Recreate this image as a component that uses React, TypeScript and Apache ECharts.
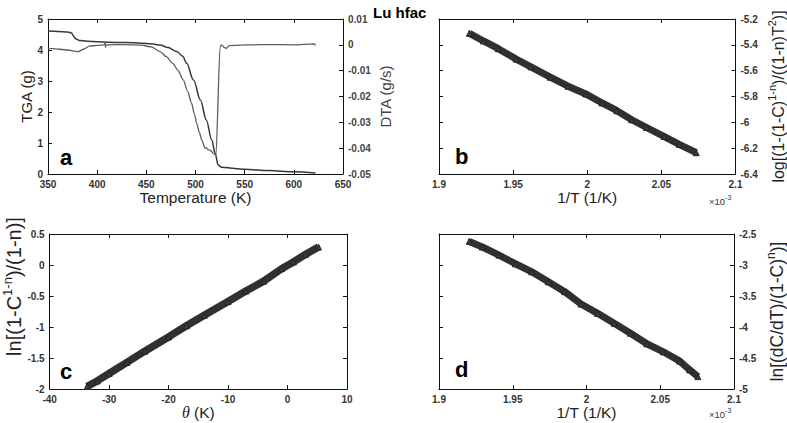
import React, { useEffect, useRef } from 'react';
import * as echarts from 'echarts';

// Panel a: TGA (g) and DTA (g/s) vs temperature (K)
const tgaCurve: [number, number][] = [
  [350, 4.61], [360, 4.6], [370, 4.58], [374, 4.55], [376, 4.45], [378, 4.36], [382, 4.31],
  [390, 4.28], [410, 4.25], [430, 4.24], [445, 4.22], [455, 4.2], [464, 4.16], [472, 4.08],
  [481, 3.95], [487, 3.8], [491, 3.57], [498, 3.03], [505, 2.39], [511, 1.74], [516.5, 1.1],
  [520, 0.67], [523, 0.29], [526.5, 0.22], [540, 0.18], [550, 0.15], [575, 0.11], [600, 0.07], [622, 0.03],
];
const dtaCurve: [number, number][] = [
  [350, -0.0014], [362, -0.0017], [372, -0.0021], [376, -0.0024], [381, -0.0026], [386, -0.0017],
  [392, -0.0005], [400, -0.0002], [407, 0], [408, 0.0008], [408.5, -0.001], [409, 0], [430, 0.0001],
  [445, -0.0001], [455, -0.0008], [464, -0.0026], [470, -0.0045], [477, -0.0072], [482, -0.0098],
  [487.6, -0.0136], [492, -0.018], [496, -0.0226], [499, -0.027], [501.2, -0.0304], [504, -0.034],
  [506.3, -0.0368], [509.7, -0.04], [511, -0.0398], [512.5, -0.0406], [514.7, -0.0408], [516, -0.0412],
  [518.1, -0.042], [520.8, -0.0427], [525, -0.0007], [526.6, 0], [529, -0.001], [531.7, -0.0014],
  [534, -0.0003], [545, -0.0001], [560, 0], [575, 0.0001], [600, 0], [621, 0.0004], [622, -0.0002],
];

// Panel b: 1/T (x10^-3 1/K) vs log[(1-(1-C)^(1-n))/((1-n)T^2)]
const bInvT = [1.9205, 1.93, 1.94, 1.952, 1.962, 1.975, 1.987, 1.999, 2.01, 2.02, 2.03, 2.04, 2.052, 2.062, 2.0735];
const bLog = [-5.311, -5.37, -5.43, -5.51, -5.57, -5.65, -5.72, -5.78, -5.85, -5.91, -5.98, -6.04, -6.11, -6.17, -6.235];

// Panel c: theta (K) vs ln[(1-C^(1-n))/(1-n)]
const cTheta = [-33.7, -32, -30, -27, -24, -20, -17, -14, -10, -7, -4, -1, 1, 3, 5.2];
const cLn = [-1.96, -1.87, -1.75, -1.57, -1.39, -1.16, -0.98, -0.81, -0.59, -0.42, -0.26, -0.06, 0.05, 0.17, 0.29];

// Panel d: 1/T (x10^-3 1/K) vs ln[(dC/dT)/(1-C)^n]
const dInvT = [1.9205, 1.9294, 1.9406, 1.9518, 1.9629, 1.9741, 1.9852, 1.9963, 2.0075, 2.0187, 2.0298, 2.0409, 2.0521, 2.0632, 2.0699, 2.0755];
const dLn = [-2.62, -2.71, -2.84, -2.98, -3.11, -3.27, -3.43, -3.63, -3.78, -3.94, -4.1, -4.27, -4.4, -4.55, -4.69, -4.8];

const invTTicks = { min: 1.9, max: 2.1, interval: 0.05 };

const FONT = 'Liberation Sans, Arial, Helvetica, sans-serif';
const zip = (xs: number[], ys: number[]) => xs.map((x, i) => [x, ys[i]]);

const labelStyle = { fontSize: 10, fontWeight: 'bold' as const, color: '#333', fontFamily: FONT };
const lineStyleAxis = { show: true, onZero: false, lineStyle: { color: '#111', width: 1 } };
const tickIn = { show: true, inside: true, length: 4, lineStyle: { color: '#111' } };
const supRich = (size: number, color: string) => ({
  sup: { fontSize: size, fontFamily: FONT, color, padding: [0, 0, 12, 0] },
});

function mainX(gridIndex: number, min: number, max: number, interval: number, name: string, nameGap: number) {
  return {
    type: 'value', gridIndex, min, max, interval, position: 'bottom',
    name, nameLocation: 'middle', nameGap,
    nameTextStyle: { fontSize: 15.5, color: '#222', fontFamily: FONT },
    axisLine: lineStyleAxis, axisTick: tickIn, splitLine: { show: false },
    axisLabel: { ...labelStyle, margin: 5 },
  };
}
function mirrorX(gridIndex: number, min: number, max: number, interval: number) {
  return {
    type: 'value', gridIndex, min, max, interval, position: 'top',
    axisLine: lineStyleAxis, axisTick: tickIn, splitLine: { show: false }, axisLabel: { show: false },
  };
}
function mainY(gridIndex: number, min: number, max: number, interval: number, position: string, name: string, nameGap: number, fontSize: number, supSize: number, color = '#222', padding: number[] = [0, 0, 0, 0]) {
  return {
    type: 'value', gridIndex, min, max, interval, position,
    name, nameLocation: 'middle', nameGap, nameRotate: 90,
    nameTextStyle: { fontSize, color, fontFamily: FONT, padding, rich: supRich(supSize, color) },
    axisLine: lineStyleAxis, axisTick: tickIn, splitLine: { show: false },
    axisLabel: { ...labelStyle, margin: 5, color: color === '#222' ? '#333' : color },
  };
}
function mirrorY(gridIndex: number, min: number, max: number, interval: number, position: string) {
  return {
    type: 'value', gridIndex, min, max, interval, position,
    axisLine: lineStyleAxis, axisTick: tickIn, splitLine: { show: false }, axisLabel: { show: false },
  };
}

function bandSeries(xi: number, yi: number, data: number[][], width: number) {
  return {
    type: 'line', xAxisIndex: xi, yAxisIndex: yi, data,
    lineStyle: { color: '#303030', width },
    symbol: 'triangle', symbolSize: 6, showAllSymbol: true,
    itemStyle: { color: '#3a3a3a', borderColor: '#262626', borderWidth: 1 },
    silent: true,
  };
}

function letter(text: string, x: number, y: number) {
  return {
    type: 'text', x, y,
    style: { text, font: `bold 22px ${FONT}`, fill: '#000', textVerticalAlign: 'middle', verticalAlign: 'middle' },
  };
}
function times10(x: number, y: number) {
  return {
    type: 'text', x, y,
    style: {
      text: '×10{s|-3}', fontSize: 9.5, fontFamily: FONT, fill: '#333',
      textVerticalAlign: 'middle', verticalAlign: 'middle',
      rich: { s: { fontSize: 7, fontFamily: FONT, fill: '#333', padding: [0, 0, 8, 0] } },
    },
  };
}

export default function App() {
  const ref = useRef<HTMLDivElement>(null);
  useEffect(() => {
    if (!ref.current) return;
    const chart = echarts.init(ref.current, undefined, { renderer: 'svg' });
    chart.setOption({
      animation: false,
      backgroundColor: '#fff',
      title: {
        text: 'Lu hfac', left: 368, top: 0,
        textStyle: { fontSize: 15, fontWeight: 'bold', color: '#000', fontFamily: FONT },
      },
      grid: [
        { left: 48, top: 19, width: 295, height: 155 },
        { left: 439, top: 19, width: 299, height: 155 },
        { left: 47, top: 234, width: 300, height: 155 },
        { left: 439, top: 234, width: 300, height: 155 },
      ],
      xAxis: [
        mainX(0, 350, 650, 50, 'Temperature (K)', 14),
        mirrorX(0, 350, 650, 50),
        mainX(1, invTTicks.min, invTTicks.max, invTTicks.interval, '1/T (1/K)', 14),
        mirrorX(1, invTTicks.min, invTTicks.max, invTTicks.interval),
        {
          ...mainX(2, -40, 10, 10, '{th|θ} (K)', 13),
          nameTextStyle: {
            fontSize: 15.5, color: '#222', fontFamily: FONT,
            rich: { th: { fontSize: 16, fontStyle: 'italic', fontFamily: 'Liberation Serif, serif', color: '#222' } },
          },
        },
        mirrorX(2, -40, 10, 10),
        mainX(3, invTTicks.min, invTTicks.max, invTTicks.interval, '1/T (1/K)', 13),
        mirrorX(3, invTTicks.min, invTTicks.max, invTTicks.interval),
      ],
      yAxis: [
        mainY(0, 0, 5, 1, 'left', 'TGA (g)', 14, 15, 10),
        mainY(0, -0.05, 0.01, 0.01, 'right', 'DTA (g/s)', 35, 15, 10, '#444'),
        mainY(1, -6.4, -5.2, 0.2, 'right', 'log[(1-(1-C){sup|1-n})/((1-n)T{sup|2})]', 31, 16, 11),
        mirrorY(1, -6.4, -5.2, 0.2, 'left'),
        mainY(2, -2, 0.5, 0.5, 'left', 'ln[(1-C{sup|1-n})/(1-n)]', 22, 20, 13, '#222', [0, 0, 0, 50]),
        mirrorY(2, -2, 0.5, 0.5, 'right'),
        mainY(3, -5, -2.5, 0.5, 'right', 'ln[(dC/dT)/(1-C){sup|n})]', 31, 17.5, 12),
        mirrorY(3, -5, -2.5, 0.5, 'left'),
      ],
      series: [
        {
          type: 'line', name: 'TGA', xAxisIndex: 0, yAxisIndex: 0, data: tgaCurve,
          symbol: 'none', smooth: 0.35, smoothMonotone: 'x',
          lineStyle: { color: '#383838', width: 1.5 }, silent: true,
        },
        {
          type: 'line', name: 'DTA', xAxisIndex: 0, yAxisIndex: 1, data: dtaCurve,
          symbol: 'none', smooth: 0.25, smoothMonotone: 'x',
          lineStyle: { color: '#5c5c5c', width: 1.3 }, silent: true,
        },
        bandSeries(2, 2, zip(bInvT, bLog), 7),
        bandSeries(4, 4, zip(cTheta, cLn), 7.5),
        bandSeries(6, 6, zip(dInvT, dLn), 7),
      ],
      graphic: [
        letter('a', 60, 157),
        letter('b', 455, 156),
        letter('c', 60, 371),
        letter('d', 455, 369),
        times10(709, 201),
        times10(709, 414),
      ],
    });
    return () => chart.dispose();
  }, []);
  return <div ref={ref} style={{ position: 'fixed', left: 0, top: 0, width: 787, height: 423 }} />;
}
